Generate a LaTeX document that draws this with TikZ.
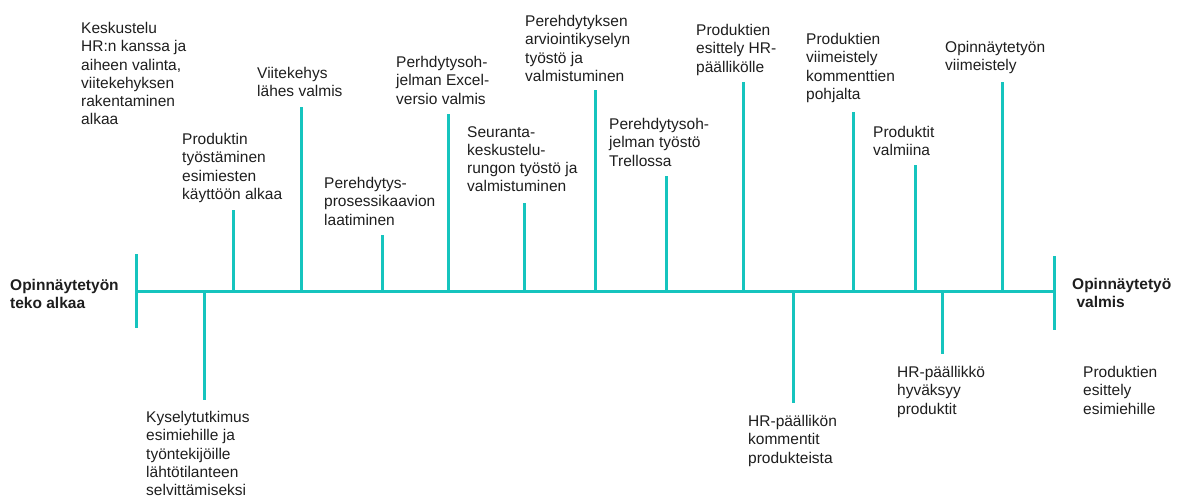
\documentclass[tikz,border=0pt]{standalone}
\usepackage{fontspec}
\setmainfont{Liberation Sans}
\definecolor{tl}{RGB}{22,196,190}
\definecolor{ink}{RGB}{30,30,30}
\begin{document}
\begin{tikzpicture}[x=1pt,y=-1pt,
  axis/.style={draw=tl,line width=3pt},
  tick/.style={draw=tl,line width=3pt},
  lbl/.style={anchor=north west,inner sep=0pt,align=left,text=ink,
    font=\fontsize{15.5}{18.3}\selectfont},
  endlbl/.style={lbl,font=\fontsize{15.5}{18}\selectfont\bfseries}]
\useasboundingbox (0,0) rectangle (1185,497);

% main time axis and its end bars
\coordinate (s) at (136,291.5);
\coordinate (e) at (1054,291.5);
\coordinate (sA) at (136,254);
\coordinate (sB) at (136,328);
\coordinate (eA) at (1054,256);
\coordinate (eB) at (1054,330);
\draw[axis] (s) -- (e);
\draw[tick] (sA) -- (sB);
\draw[tick] (eA) -- (eB);

% ticks pointing up: base on the axis, tip above
\foreach \n/\x/\t in {u1/233/210, u2/301/107, u3/382/235, u4/448/114,
  u5/524/203, u6/595/90, u7/666/176, u8/743/82, u9/853/112,
  u10/915/165, u11/1002/82}{
  \coordinate (\n b) at (\x,291.5);
  \coordinate (\n t) at (\x,\t);
  \draw[tick] (\n b) -- (\n t);
}
% ticks pointing down
\foreach \n/\x/\t in {d1/204/400, d2/793/403, d3/942/354}{
  \coordinate (\n b) at (\x,291.5);
  \coordinate (\n t) at (\x,\t);
  \draw[tick] (\n b) -- (\n t);
}

% end labels
\node[endlbl] (start) at (10,279) {Opinnäytetyön\\teko alkaa};
\node[endlbl] (finish) at (1072,278) {Opinnäytetyö\\\ valmis};

% milestone labels above the axis
\node[lbl] (m0) at (81,22) {Keskustelu\\HR:n kanssa ja\\aiheen valinta,\\viitekehyksen\\rakentaminen\\alkaa};
\node[lbl] (m1) at (182,133) {Produktin\\työstäminen\\esimiesten\\käyttöön alkaa};
\node[lbl] (m2) at (257,67) {Viitekehys\\lähes valmis};
\node[lbl] (m3) at (324,177) {Perehdytys-\\prosessikaavion\\laatiminen};
\node[lbl] (m4) at (396,56) {Perhdytysoh-\\jelman Excel-\\versio valmis};
\node[lbl] (m5) at (467,126) {Seuranta-\\keskustelu-\\rungon työstö ja\\valmistuminen};
\node[lbl] (m6) at (525,15) {Perehdytyksen\\arviointikyselyn\\työstö ja\\valmistuminen};
\node[lbl] (m7) at (609,118) {Perehdytysoh-\\jelman työstö\\Trellossa};
\node[lbl] (m8) at (696,24) {Produktien\\esittely HR-\\päällikölle};
\node[lbl] (m9) at (806,33) {Produktien\\viimeistely\\kommenttien\\pohjalta};
\node[lbl] (m10) at (873,126) {Produktit\\valmiina};
\node[lbl] (m11) at (945,41) {Opinnäytetyön\\viimeistely};

% milestone labels below the axis
\node[lbl] (n1) at (146,411) {Kyselytutkimus\\esimiehille ja\\työntekijöille\\lähtötilanteen\\selvittämiseksi};
\node[lbl] (n2) at (748,415) {HR-päällikön\\kommentit\\produkteista};
\node[lbl] (n3) at (897,366) {HR-päällikkö\\hyväksyy\\produktit};
\node[lbl] (n4) at (1083,366) {Produktien\\esittely\\esimiehille};
\end{tikzpicture}
\end{document}
